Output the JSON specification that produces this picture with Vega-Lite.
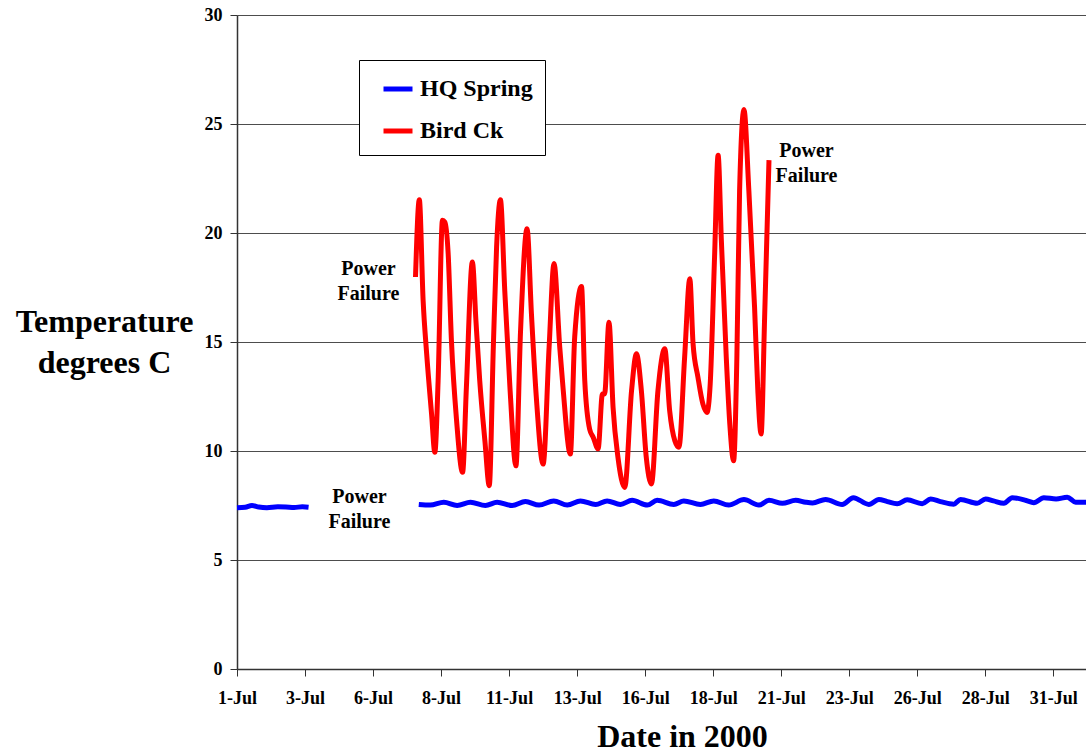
{
  "$schema": "https://vega.github.io/schema/vega-lite/v6.json",
  "width": 849,
  "height": 654,
  "autosize": {"type": "none"},
  "padding": {"left": 237, "top": 15, "right": 0, "bottom": 84},
  "background": "white",
  "config": {"font": "Liberation Serif", "view": {"stroke": null}},
  "datasets": {
    "temps": [
      {"series": "HQ Spring", "seg": "a", "day": 0, "temp": 7.40},
      {"series": "HQ Spring", "seg": "a", "day": 0.3, "temp": 7.42},
      {"series": "HQ Spring", "seg": "a", "day": 0.55, "temp": 7.50},
      {"series": "HQ Spring", "seg": "a", "day": 0.8, "temp": 7.43},
      {"series": "HQ Spring", "seg": "a", "day": 1.1, "temp": 7.40},
      {"series": "HQ Spring", "seg": "a", "day": 1.5, "temp": 7.44},
      {"series": "HQ Spring", "seg": "a", "day": 1.8, "temp": 7.43},
      {"series": "HQ Spring", "seg": "a", "day": 2.1, "temp": 7.41},
      {"series": "HQ Spring", "seg": "a", "day": 2.4, "temp": 7.44},
      {"series": "HQ Spring", "seg": "a", "day": 2.63, "temp": 7.42},
      {"series": "HQ Spring", "seg": "b", "day": 6.68, "temp": 7.55},
      {"series": "HQ Spring", "seg": "b", "day": 7.1, "temp": 7.52},
      {"series": "HQ Spring", "seg": "b", "day": 7.6, "temp": 7.65},
      {"series": "HQ Spring", "seg": "b", "day": 8.09, "temp": 7.50},
      {"series": "HQ Spring", "seg": "b", "day": 8.58, "temp": 7.65},
      {"series": "HQ Spring", "seg": "b", "day": 9.13, "temp": 7.50},
      {"series": "HQ Spring", "seg": "b", "day": 9.56, "temp": 7.65},
      {"series": "HQ Spring", "seg": "b", "day": 10.11, "temp": 7.50},
      {"series": "HQ Spring", "seg": "b", "day": 10.6, "temp": 7.68},
      {"series": "HQ Spring", "seg": "b", "day": 11.1, "temp": 7.52},
      {"series": "HQ Spring", "seg": "b", "day": 11.64, "temp": 7.71},
      {"series": "HQ Spring", "seg": "b", "day": 12.14, "temp": 7.52},
      {"series": "HQ Spring", "seg": "b", "day": 12.62, "temp": 7.71},
      {"series": "HQ Spring", "seg": "b", "day": 13.18, "temp": 7.55},
      {"series": "HQ Spring", "seg": "b", "day": 13.6, "temp": 7.71},
      {"series": "HQ Spring", "seg": "b", "day": 14.09, "temp": 7.55},
      {"series": "HQ Spring", "seg": "b", "day": 14.52, "temp": 7.74},
      {"series": "HQ Spring", "seg": "b", "day": 15.08, "temp": 7.52},
      {"series": "HQ Spring", "seg": "b", "day": 15.44, "temp": 7.74},
      {"series": "HQ Spring", "seg": "b", "day": 16.05, "temp": 7.55},
      {"series": "HQ Spring", "seg": "b", "day": 16.42, "temp": 7.71},
      {"series": "HQ Spring", "seg": "b", "day": 17.03, "temp": 7.55},
      {"series": "HQ Spring", "seg": "b", "day": 17.52, "temp": 7.71},
      {"series": "HQ Spring", "seg": "b", "day": 18.07, "temp": 7.52},
      {"series": "HQ Spring", "seg": "b", "day": 18.63, "temp": 7.77},
      {"series": "HQ Spring", "seg": "b", "day": 19.18, "temp": 7.52},
      {"series": "HQ Spring", "seg": "b", "day": 19.55, "temp": 7.74},
      {"series": "HQ Spring", "seg": "b", "day": 20.04, "temp": 7.60},
      {"series": "HQ Spring", "seg": "b", "day": 20.53, "temp": 7.74},
      {"series": "HQ Spring", "seg": "b", "day": 20.9, "temp": 7.65},
      {"series": "HQ Spring", "seg": "b", "day": 21.15, "temp": 7.62},
      {"series": "HQ Spring", "seg": "b", "day": 21.63, "temp": 7.78},
      {"series": "HQ Spring", "seg": "b", "day": 22.24, "temp": 7.55},
      {"series": "HQ Spring", "seg": "b", "day": 22.65, "temp": 7.86},
      {"series": "HQ Spring", "seg": "b", "day": 23.22, "temp": 7.55},
      {"series": "HQ Spring", "seg": "b", "day": 23.59, "temp": 7.78},
      {"series": "HQ Spring", "seg": "b", "day": 23.9, "temp": 7.68},
      {"series": "HQ Spring", "seg": "b", "day": 24.26, "temp": 7.58},
      {"series": "HQ Spring", "seg": "b", "day": 24.63, "temp": 7.76},
      {"series": "HQ Spring", "seg": "b", "day": 25.18, "temp": 7.58},
      {"series": "HQ Spring", "seg": "b", "day": 25.49, "temp": 7.80},
      {"series": "HQ Spring", "seg": "b", "day": 25.85, "temp": 7.68},
      {"series": "HQ Spring", "seg": "b", "day": 26.34, "temp": 7.56},
      {"series": "HQ Spring", "seg": "b", "day": 26.59, "temp": 7.78},
      {"series": "HQ Spring", "seg": "b", "day": 27.2, "temp": 7.60},
      {"series": "HQ Spring", "seg": "b", "day": 27.51, "temp": 7.80},
      {"series": "HQ Spring", "seg": "b", "day": 27.8, "temp": 7.71},
      {"series": "HQ Spring", "seg": "b", "day": 28.18, "temp": 7.60},
      {"series": "HQ Spring", "seg": "b", "day": 28.49, "temp": 7.86},
      {"series": "HQ Spring", "seg": "b", "day": 29.0, "temp": 7.73},
      {"series": "HQ Spring", "seg": "b", "day": 29.28, "temp": 7.63},
      {"series": "HQ Spring", "seg": "b", "day": 29.65, "temp": 7.86},
      {"series": "HQ Spring", "seg": "b", "day": 30.1, "temp": 7.80},
      {"series": "HQ Spring", "seg": "b", "day": 30.51, "temp": 7.88},
      {"series": "HQ Spring", "seg": "b", "day": 30.82, "temp": 7.65},
      {"series": "HQ Spring", "seg": "b", "day": 31.22, "temp": 7.65},
      {"series": "Bird Ck", "seg": "c", "day": 6.56, "temp": 17.98},
      {"series": "Bird Ck", "seg": "c", "day": 6.70, "temp": 21.53},
      {"series": "Bird Ck", "seg": "c", "day": 6.84, "temp": 16.9},
      {"series": "Bird Ck", "seg": "c", "day": 6.97, "temp": 14.46},
      {"series": "Bird Ck", "seg": "c", "day": 7.15, "temp": 11.7},
      {"series": "Bird Ck", "seg": "c", "day": 7.27, "temp": 9.94},
      {"series": "Bird Ck", "seg": "c", "day": 7.39, "temp": 13.2},
      {"series": "Bird Ck", "seg": "c", "day": 7.55, "temp": 20.58},
      {"series": "Bird Ck", "seg": "c", "day": 7.64, "temp": 20.5},
      {"series": "Bird Ck", "seg": "c", "day": 7.76, "temp": 19.05},
      {"series": "Bird Ck", "seg": "c", "day": 7.88, "temp": 15.07},
      {"series": "Bird Ck", "seg": "c", "day": 8.07, "temp": 11.39},
      {"series": "Bird Ck", "seg": "c", "day": 8.29, "temp": 9.02},
      {"series": "Bird Ck", "seg": "c", "day": 8.43, "temp": 12.92},
      {"series": "Bird Ck", "seg": "c", "day": 8.65, "temp": 18.67},
      {"series": "Bird Ck", "seg": "c", "day": 8.78, "temp": 15.99},
      {"series": "Bird Ck", "seg": "c", "day": 8.92, "temp": 13.23},
      {"series": "Bird Ck", "seg": "c", "day": 9.11, "temp": 10.47},
      {"series": "Bird Ck", "seg": "c", "day": 9.27, "temp": 8.41},
      {"series": "Bird Ck", "seg": "c", "day": 9.42, "temp": 14.77},
      {"series": "Bird Ck", "seg": "c", "day": 9.54, "temp": 19.37},
      {"series": "Bird Ck", "seg": "c", "day": 9.68, "temp": 21.53},
      {"series": "Bird Ck", "seg": "c", "day": 9.84, "temp": 17.36},
      {"series": "Bird Ck", "seg": "c", "day": 10.03, "temp": 12.92},
      {"series": "Bird Ck", "seg": "c", "day": 10.25, "temp": 9.32},
      {"series": "Bird Ck", "seg": "c", "day": 10.42, "temp": 15.5},
      {"series": "Bird Ck", "seg": "c", "day": 10.66, "temp": 20.2},
      {"series": "Bird Ck", "seg": "c", "day": 10.82, "temp": 16.3},
      {"series": "Bird Ck", "seg": "c", "day": 11.0, "temp": 12.46},
      {"series": "Bird Ck", "seg": "c", "day": 11.25, "temp": 9.40},
      {"series": "Bird Ck", "seg": "c", "day": 11.47, "temp": 14.77},
      {"series": "Bird Ck", "seg": "c", "day": 11.65, "temp": 18.6},
      {"series": "Bird Ck", "seg": "c", "day": 11.86, "temp": 14.77},
      {"series": "Bird Ck", "seg": "c", "day": 11.98, "temp": 12.92},
      {"series": "Bird Ck", "seg": "c", "day": 12.25, "temp": 9.86},
      {"series": "Bird Ck", "seg": "c", "day": 12.41, "temp": 15.23},
      {"series": "Bird Ck", "seg": "c", "day": 12.66, "temp": 17.55},
      {"series": "Bird Ck", "seg": "c", "day": 12.78, "temp": 13.23},
      {"series": "Bird Ck", "seg": "c", "day": 12.96, "temp": 11.0},
      {"series": "Bird Ck", "seg": "c", "day": 13.09, "temp": 10.63},
      {"series": "Bird Ck", "seg": "c", "day": 13.27, "temp": 10.1},
      {"series": "Bird Ck", "seg": "c", "day": 13.43, "temp": 12.62},
      {"series": "Bird Ck", "seg": "c", "day": 13.51, "temp": 12.62},
      {"series": "Bird Ck", "seg": "c", "day": 13.67, "temp": 15.91},
      {"series": "Bird Ck", "seg": "c", "day": 13.82, "temp": 12.0},
      {"series": "Bird Ck", "seg": "c", "day": 14.0, "temp": 9.71},
      {"series": "Bird Ck", "seg": "c", "day": 14.25, "temp": 8.33},
      {"series": "Bird Ck", "seg": "c", "day": 14.5, "temp": 12.77},
      {"series": "Bird Ck", "seg": "c", "day": 14.68, "temp": 14.46},
      {"series": "Bird Ck", "seg": "c", "day": 14.86, "temp": 12.77},
      {"series": "Bird Ck", "seg": "c", "day": 15.04, "temp": 9.71},
      {"series": "Bird Ck", "seg": "c", "day": 15.23, "temp": 8.49},
      {"series": "Bird Ck", "seg": "c", "day": 15.47, "temp": 12.77},
      {"series": "Bird Ck", "seg": "c", "day": 15.72, "temp": 14.69},
      {"series": "Bird Ck", "seg": "c", "day": 15.9, "temp": 11.85},
      {"series": "Bird Ck", "seg": "c", "day": 16.09, "temp": 10.47},
      {"series": "Bird Ck", "seg": "c", "day": 16.24, "temp": 10.17},
      {"series": "Bird Ck", "seg": "c", "day": 16.45, "temp": 14.3},
      {"series": "Bird Ck", "seg": "c", "day": 16.64, "temp": 17.9},
      {"series": "Bird Ck", "seg": "c", "day": 16.76, "temp": 14.92},
      {"series": "Bird Ck", "seg": "c", "day": 16.94, "temp": 13.38},
      {"series": "Bird Ck", "seg": "c", "day": 17.12, "temp": 12.16},
      {"series": "Bird Ck", "seg": "c", "day": 17.27, "temp": 11.77},
      {"series": "Bird Ck", "seg": "c", "day": 17.39, "temp": 13.08},
      {"series": "Bird Ck", "seg": "c", "day": 17.55, "temp": 18.9},
      {"series": "Bird Ck", "seg": "c", "day": 17.68, "temp": 23.57},
      {"series": "Bird Ck", "seg": "c", "day": 17.8, "temp": 19.66},
      {"series": "Bird Ck", "seg": "c", "day": 17.98, "temp": 14.3},
      {"series": "Bird Ck", "seg": "c", "day": 18.11, "temp": 11.24},
      {"series": "Bird Ck", "seg": "c", "day": 18.25, "temp": 9.55},
      {"series": "Bird Ck", "seg": "c", "day": 18.37, "temp": 14.3},
      {"series": "Bird Ck", "seg": "c", "day": 18.47, "temp": 21.95},
      {"series": "Bird Ck", "seg": "c", "day": 18.63, "temp": 25.66},
      {"series": "Bird Ck", "seg": "c", "day": 18.81, "temp": 21.95},
      {"series": "Bird Ck", "seg": "c", "day": 19.02, "temp": 16.6},
      {"series": "Bird Ck", "seg": "c", "day": 19.14, "temp": 12.77},
      {"series": "Bird Ck", "seg": "c", "day": 19.26, "temp": 10.78},
      {"series": "Bird Ck", "seg": "c", "day": 19.39, "temp": 16.14},
      {"series": "Bird Ck", "seg": "c", "day": 19.55, "temp": 23.34}
    ],
    "notes": [
      {"day": 4.83, "temp": 18.35, "label": "Power\nFailure"},
      {"day": 4.50, "temp": 7.91, "label": "Power\nFailure"},
      {"day": 20.93, "temp": 23.78, "label": "Power\nFailure"}
    ]
  },
  "layer": [
    {
      "data": {"name": "temps"},
      "mark": {"type": "line", "strokeWidth": 5, "interpolate": "monotone", "strokeCap": "butt", "strokeJoin": "round"},
      "encoding": {
        "x": {
          "field": "day", "type": "quantitative",
          "scale": {"domain": [0, 31.2], "nice": false, "zero": false},
          "axis": {
            "values": [0, 2.5, 5, 7.5, 10, 12.5, 15, 17.5, 20, 22.5, 25, 27.5, 30],
            "labelExpr": "(floor(datum.value) + 1) + '-Jul'",
            "grid": false,
            "tickSize": 7, "tickColor": "#333333", "tickWidth": 1,
            "domainColor": "#333333", "domainWidth": 1.5,
            "labelFont": "Liberation Serif", "labelFontWeight": "bold", "labelFontSize": 18, "labelColor": "black",
            "labelPadding": 13, "labelFlush": false, "labelOverlap": false,
            "title": "Date in 2000", "titleFont": "Liberation Serif", "titleFontSize": 32, "titleFontWeight": "bold", "titleColor": "black",
            "titleX": 445, "titleY": 77, "titleBaseline": "alphabetic", "titleAlign": "center"
          }
        },
        "y": {
          "field": "temp", "type": "quantitative",
          "scale": {"domain": [0, 30], "nice": false},
          "axis": {
            "values": [0, 5, 10, 15, 20, 25, 30],
            "grid": true, "gridColor": "#4d4d4d", "gridWidth": 1,
            "tickSize": 7, "tickColor": "#333333", "tickWidth": 1,
            "domainColor": "#333333", "domainWidth": 1.5,
            "labelFont": "Liberation Serif", "labelFontWeight": "bold", "labelFontSize": 18, "labelColor": "black",
            "labelPadding": 8,
            "title": ["Temperature", "degrees C"], "titleFont": "Liberation Serif", "titleFontSize": 32, "titleFontWeight": "bold", "titleColor": "black",
            "titleAngle": 0, "titleX": -133, "titleY": 306, "titleAlign": "center", "titleBaseline": "middle", "titleLineHeight": 41
          }
        },
        "color": {
          "field": "series", "type": "nominal",
          "scale": {"domain": ["HQ Spring", "Bird Ck"], "range": ["#0000FF", "#FF0000"]},
          "legend": {
            "orient": "none", "legendX": 122, "legendY": 45, "title": null,
            "symbolType": "stroke", "symbolStrokeWidth": 5, "symbolSize": 841,
            "labelFont": "Liberation Serif", "labelFontSize": 24, "labelFontWeight": "bold", "labelColor": "black",
            "labelExpr": "datum.label + '\u00a0\u00a0\u00a0'", "labelLimit": 0, "labelOffset": 5,
            "strokeColor": "black", "fillColor": "white", "padding": 12, "symbolOffset": 10, "rowPadding": 13
          }
        },
        "detail": {"field": "seg", "type": "nominal"}
      }
    },
    {
      "data": {"name": "notes"},
      "mark": {"type": "text", "font": "Liberation Serif", "fontSize": 20, "fontWeight": "bold", "color": "black", "align": "center", "baseline": "middle", "lineBreak": "\n", "lineHeight": 25},
      "encoding": {
        "x": {"field": "day", "type": "quantitative"},
        "y": {"field": "temp", "type": "quantitative"},
        "text": {"field": "label", "type": "nominal"}
      }
    }
  ]
}
